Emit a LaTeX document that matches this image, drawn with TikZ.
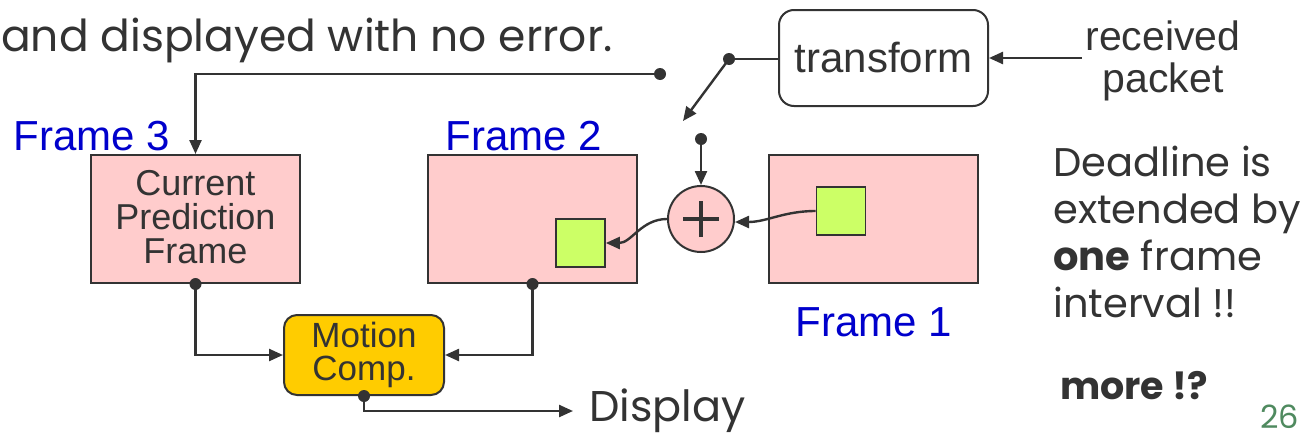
\documentclass[tikz,border=0pt]{standalone}
\usepackage{fontspec}
\setmainfont{Liberation Sans}
\newfontfamily\handfont{Poppins}
\usetikzlibrary{arrows.meta,positioning}
\definecolor{ink}{HTML}{333333}
\definecolor{framepink}{HTML}{FFCCCC}
\definecolor{blockgreen}{HTML}{CCFF66}
\definecolor{mcyellow}{HTML}{FFCC00}
\definecolor{labelblue}{HTML}{0000CC}
\definecolor{pagegreen}{HTML}{4F8A5F}
\tikzset{
  wire/.style={draw=ink, line width=2.4pt},
  arr/.style={wire, -{Triangle[length=14pt,width=12pt]}},
  framebox/.style={draw=ink, line width=2pt, fill=framepink, minimum width=209pt, minimum height=128pt, inner sep=0pt},
  mblock/.style={draw=ink, line width=1.6pt, fill=blockgreen, minimum width=49pt, minimum height=48pt, inner sep=0pt},
  dotmark/.style={circle, fill=ink, inner sep=0pt, minimum size=12pt},
  flabel/.style={text=labelblue, font=\fontsize{42}{46}\selectfont},
  boxtext/.style={text=ink, font=\fontsize{36}{34}\selectfont, align=center},
  hand/.style={text=ink, font=\handfont\fontsize{40}{47}\selectfont, align=left}
}
\begin{document}
\begin{tikzpicture}[x=1pt, y=-1pt]
\useasboundingbox[fill=white] (0,0) rectangle (1303,439);

% heading fragment
\node[hand, anchor=base west, inner sep=0pt, font=\handfont\fontsize{44}{48}\selectfont] (head) at (1,51) {and displayed with no error.};

% frames
\node[framebox] (f3) at (195.5,219) {};
\node[framebox] (f2) at (532.5,219) {};
\node[framebox] (f1) at (873,219) {};
\node[boxtext] (f3t) at (195.5,217) {Current\\Prediction\\Frame};
\node[mblock] (g2) at (580.5,243) {};
\node[mblock] (g1) at (841,211) {};

\node[flabel, anchor=base] (l3) at (92,150) {Frame 3};
\node[flabel, anchor=base] (l2) at (524,150) {Frame 2};
\node[flabel, anchor=base] (l1) at (874,336) {Frame 1};

% adder
\node[circle, draw=ink, line width=2pt, fill=framepink, minimum size=66pt, inner sep=0pt] (add) at (701,219) {};
\draw[ink, line width=3.2pt] ([xshift=-18pt]add.center) -- ([xshift=18pt]add.center)
  ([yshift=-18pt]add.center) -- ([yshift=18pt]add.center);

% transform block
\node[draw=ink, line width=2pt, rounded corners=15pt, minimum width=209pt, minimum height=96pt, inner sep=0pt,
  font=\fontsize{42}{46}\selectfont, text=ink] (tf) at (883.5,58) {transform};
\node[text=ink, font=\fontsize{41}{42}\selectfont, align=center] (rp) at (1163,61) {received\\packet};

% motion compensation
\node[draw=ink, line width=2pt, fill=mcyellow, rounded corners=13pt, minimum width=160pt, minimum height=80pt, inner sep=0pt,
  text=ink, font=\fontsize{35}{32.5}\selectfont, align=center] (mc) at (364,355) {Motion\\Comp.};

% switch contacts
\node[dotmark] (sw1) at (660,74) {};
\node[dotmark] (sw0) at (729,59) {};
\node[dotmark] (sw2) at (701,139) {};
\coordinate (swtip) at (683,121);
\node[dotmark] (d3) at (f3.south) {};
\node[dotmark] (d2) at (f2.south) {};
\node[dotmark] (dm) at (mc.south) {};

% connectors
\draw[arr] (rp.west |- tf.east) -- (tf.east);
\draw[wire] (tf.west |- sw0) -- (sw0.center);
\draw[arr] (sw0.center) -- (swtip);
\draw[arr] (sw1.center) -| (f3.north);
\draw[arr] (sw2.center) -- (add.north);
\draw[arr] (g1.west) to[out=180, in=0] ([yshift=-3pt]add.east);
\draw[arr] (add.west) to[out=180, in=0] (g2.east);
\draw[arr] (d3.center) |- (mc.west);
\draw[arr] (d2.center) |- (mc.east);
\node[text=ink, font=\handfont\fontsize{43}{48}\selectfont, anchor=west, inner sep=0pt] (disp) at (589,411) {Display};
\draw[arr] (dm.center) |- ([xshift=-16pt]disp.west);

% side remarks
\node[hand, anchor=north west, inner sep=0pt] (note) at (1053,146)
  {Deadline is\\extended by\\\textbf{one} frame\\interval !!};
\node[hand, anchor=west, inner sep=0pt, font=\handfont\bfseries\fontsize{38}{40}\selectfont] (more) at (1060,386) {more !?};
\node[text=pagegreen, font=\handfont\fontsize{32}{36}\selectfont, anchor=east, inner sep=0pt] (pg) at (1299,417) {26};
\end{tikzpicture}
\end{document}
